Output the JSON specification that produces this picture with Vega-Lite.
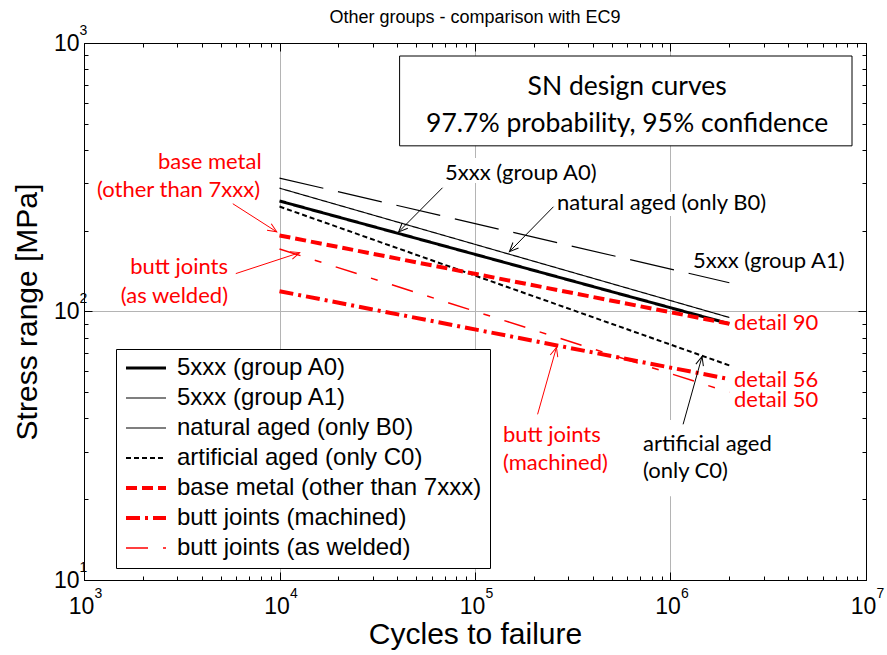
{
  "$schema": "https://vega.github.io/schema/vega-lite/v6.json",
  "width": 782,
  "height": 537,
  "autosize": "none",
  "padding": {"left": 84, "top": 43, "right": 21, "bottom": 75},
  "background": "white",
  "title": {"text": "Other groups - comparison with EC9", "font": "Liberation Sans", "fontSize": 18, "fontWeight": "normal", "color": "black", "anchor": "middle", "offset": -4},
  "config": {
    "view": {"stroke": "black", "strokeWidth": 1},
    "axis": {"domainColor": "black", "tickColor": "black", "labelColor": "black", "titleColor": "black", "labelFont": "Liberation Sans", "titleFont": "Liberation Sans", "titleFontWeight": "normal"}
  },
  "resolve": {"axis": {"x": "independent", "y": "independent"}},
  "layer": [
    {
      "data": {"values": [
        {"curve": "5xxx (group A0)", "N": 10000, "S": 258},
        {"curve": "5xxx (group A0)", "N": 2000000, "S": 90},
        {"curve": "5xxx (group A1)", "N": 10000, "S": 314},
        {"curve": "5xxx (group A1)", "N": 2000000, "S": 128},
        {"curve": "natural aged (only B0)", "N": 10000, "S": 288},
        {"curve": "natural aged (only B0)", "N": 2000000, "S": 95},
        {"curve": "artificial aged (only C0)", "N": 10000, "S": 246},
        {"curve": "artificial aged (only C0)", "N": 2000000, "S": 63},
        {"curve": "base metal (other than 7xxx)", "N": 10000, "S": 192},
        {"curve": "base metal (other than 7xxx)", "N": 2000000, "S": 90},
        {"curve": "butt joints (machined)", "N": 10000, "S": 119},
        {"curve": "butt joints (machined)", "N": 2000000, "S": 56},
        {"curve": "butt joints (as welded)", "N": 10000, "S": 171},
        {"curve": "butt joints (as welded)", "N": 2000000, "S": 50}
      ]},
      "mark": {"type": "line", "strokeCap": "butt"},
      "encoding": {
        "x": {"field": "N", "type": "quantitative", "scale": {"type": "log", "domain": [1000, 10000000], "nice": false},
          "axis": {"orient": "bottom", "title": "Cycles to failure", "titleFontSize": 30, "titlePadding": -3,
            "values": [1000,2000,3000,4000,5000,6000,7000,8000,9000,10000,20000,30000,40000,50000,60000,70000,80000,90000,100000,200000,300000,400000,500000,600000,700000,800000,900000,1000000,2000000,3000000,4000000,5000000,6000000,7000000,8000000,9000000,10000000],
            "labelExpr": "abs(log(datum.value)/LN10 - round(log(datum.value)/LN10)) < 0.001 ? '10' : ''",
            "labelFontSize": 23, "labelFlush": false, "labelOverlap": false, "labelPadding": 23, "labelOffset": -3,
            "tickSize": {"condition": {"test": "abs(log(datum.value)/LN10 - round(log(datum.value)/LN10)) < 0.001", "value": -8}, "value": -4},
            "grid": true, "gridColor": "#b4b4b4", "gridWidth": 1,
            "gridOpacity": {"condition": {"test": "abs(log(datum.value)/LN10 - round(log(datum.value)/LN10)) < 0.001", "value": 1}, "value": 0}}},
        "y": {"field": "S", "type": "quantitative", "scale": {"type": "log", "domain": [10, 1000], "nice": false},
          "axis": {"orient": "left", "title": "Stress range [MPa]", "titleFontSize": 30, "titlePadding": 11,
            "values": [10,20,30,40,50,60,70,80,90,100,200,300,400,500,600,700,800,900,1000],
            "labelExpr": "abs(log(datum.value)/LN10 - round(log(datum.value)/LN10)) < 0.001 ? '10' : ''",
            "labelFontSize": 23, "labelFlush": false, "labelOverlap": false, "labelPadding": 13,
            "tickSize": {"condition": {"test": "abs(log(datum.value)/LN10 - round(log(datum.value)/LN10)) < 0.001", "value": -8}, "value": -4},
            "grid": true, "gridColor": "#b4b4b4", "gridWidth": 1,
            "gridOpacity": {"condition": {"test": "abs(log(datum.value)/LN10 - round(log(datum.value)/LN10)) < 0.001", "value": 1}, "value": 0}}},
        "color": {"field": "curve", "type": "nominal",
          "scale": {"domain": ["5xxx (group A0)", "5xxx (group A1)", "natural aged (only B0)", "artificial aged (only C0)", "base metal (other than 7xxx)", "butt joints (machined)", "butt joints (as welded)"],
            "range": ["#000000", "#000000", "#000000", "#000000", "#ff0000", "#ff0000", "#ff0000"]},
          "legend": {"orient": "none", "legendX": 32, "legendY": 306, "title": null, "symbolType": "stroke", "symbolSize": 1600, "clipHeight": 22, "rowPadding": 6, "padding": 8, "labelOffset": 9, "labelFont": "Liberation Sans", "labelFontSize": 24, "labelColor": "black", "labelLimit": 500, "strokeColor": "black", "fillColor": "white", "cornerRadius": 0}},
        "strokeDash": {"field": "curve", "type": "nominal",
          "scale": {"domain": ["5xxx (group A0)", "5xxx (group A1)", "natural aged (only B0)", "artificial aged (only C0)", "base metal (other than 7xxx)", "butt joints (machined)", "butt joints (as welded)"],
            "range": [[1, 0], [45, 15], [1, 0], [5, 3], [11, 5], [14, 5, 3, 5], [22, 15, 7, 15]]},
          "legend": {"orient": "none", "legendX": 32, "legendY": 306, "title": null, "symbolType": "stroke", "symbolSize": 1600, "clipHeight": 22, "rowPadding": 6, "padding": 8, "labelOffset": 9, "labelFont": "Liberation Sans", "labelFontSize": 24, "labelColor": "black", "labelLimit": 500, "strokeColor": "black", "fillColor": "white", "cornerRadius": 0}},
        "strokeWidth": {"field": "curve", "type": "nominal",
          "scale": {"type": "ordinal", "domain": ["5xxx (group A0)", "5xxx (group A1)", "natural aged (only B0)", "artificial aged (only C0)", "base metal (other than 7xxx)", "butt joints (machined)", "butt joints (as welded)"],
            "range": [3, 1.2, 1.2, 2, 4, 4, 1.5]},
          "legend": {"orient": "none", "legendX": 32, "legendY": 306, "title": null, "symbolType": "stroke", "symbolSize": 1600, "clipHeight": 22, "rowPadding": 6, "padding": 8, "labelOffset": 9, "labelFont": "Liberation Sans", "labelFontSize": 24, "labelColor": "black", "labelLimit": 500, "strokeColor": "black", "fillColor": "white", "cornerRadius": 0}}
      }
    },
    {
      "data": {"values": [{"N": 41150, "N2": 8480000, "S": 894.5, "S2": 414}]},
      "mark": {"type": "rect", "fill": "white", "stroke": "black", "strokeWidth": 1},
      "encoding": {
        "x": {"field": "N", "type": "quantitative", "scale": {"type": "log", "domain": [1000, 10000000], "nice": false},
          "axis": {"orient": "top", "title": null, "labels": false, "grid": false,
            "values": [1000,2000,3000,4000,5000,6000,7000,8000,9000,10000,20000,30000,40000,50000,60000,70000,80000,90000,100000,200000,300000,400000,500000,600000,700000,800000,900000,1000000,2000000,3000000,4000000,5000000,6000000,7000000,8000000,9000000,10000000],
            "tickSize": {"condition": {"test": "abs(log(datum.value)/LN10 - round(log(datum.value)/LN10)) < 0.001", "value": -8}, "value": -4}}},
        "x2": {"field": "N2"},
        "y": {"field": "S", "type": "quantitative", "scale": {"type": "log", "domain": [10, 1000], "nice": false},
          "axis": {"orient": "right", "title": null, "labels": false, "grid": false,
            "values": [10,20,30,40,50,60,70,80,90,100,200,300,400,500,600,700,800,900,1000],
            "tickSize": {"condition": {"test": "abs(log(datum.value)/LN10 - round(log(datum.value)/LN10)) < 0.001", "value": -8}, "value": -4}}},
        "y2": {"field": "S2"}
      }
    },
    {
      "data": {"values": [
        {"N": 68600, "N2": 421000, "S": 373, "S2": 301},
        {"N": 256500, "N2": 3300000, "S": 278.6, "S2": 226.8},
        {"N": 706000, "N2": 3420000, "S": 39.4, "S2": 20.5}
      ]},
      "mark": {"type": "rect", "fill": "white", "stroke": null},
      "encoding": {
        "x": {"field": "N", "type": "quantitative",
          "axis": {"orient": "bottom", "title": null, "domain": false, "grid": false, "tickOpacity": 0,
            "values": [1000,10000,100000,1000000,10000000],
            "labelExpr": "substring('0123456789', round(log(datum.value)/LN10), round(log(datum.value)/LN10) + 1)",
            "labelFontSize": 14, "labelFlush": false, "labelOverlap": false, "labelPadding": 14.5, "labelOffset": 14,
            "tickSize": -8}},
        "x2": {"field": "N2"},
        "y": {"field": "S", "type": "quantitative",
          "axis": {"orient": "left", "title": null, "domain": false, "grid": false, "tickOpacity": 0,
            "values": [10, 100, 1000],
            "labelExpr": "substring('0123456789', round(log(datum.value)/LN10), round(log(datum.value)/LN10) + 1)",
            "labelFontSize": 14, "labelFlush": false, "labelOverlap": false, "labelPadding": 13, "labelAlign": "left", "labelOffset": -13,
            "tickSize": -8}},
        "y2": {"field": "S2"}
      }
    },
    {
      "data": {"values": [
        {"N": 600000, "S": 685.7, "t": "SN design curves"},
        {"N": 600000, "S": 500, "t": "97.7% probability, 95% confidence"}
      ]},
      "mark": {"type": "text", "font": "Lato", "fontSize": 26.5, "color": "black", "align": "center", "baseline": "middle"},
      "encoding": {
        "x": {"field": "N", "type": "quantitative", "axis": null},
        "y": {"field": "S", "type": "quantitative", "axis": null},
        "text": {"field": "t"}
      }
    },
    {
      "data": {"values": [
        {"N": 68200, "S": 289, "N2": 40700, "S2": 198},
        {"N": 252000, "S": 245.6, "N2": 150000, "S2": 167},
        {"N": 1160000, "S": 38.0, "N2": 1450000, "S2": 68.0}
      ]},
      "layer": [
        {"mark": {"type": "rule", "color": "black", "strokeWidth": 1},
         "encoding": {"x": {"field": "N", "type": "quantitative", "axis": null}, "y": {"field": "S", "type": "quantitative", "axis": null}, "x2": {"field": "N2"}, "y2": {"field": "S2"}}},
        {"mark": {"type": "point", "shape": "M-1.3,3L0,0L1.3,3", "filled": false, "stroke": "black", "strokeWidth": 1, "size": 36, "opacity": 1,
           "angle": {"expr": "atan2(scale('x', datum.N2) - scale('x', datum.N), scale('y', datum.S) - scale('y', datum.S2)) * 180 / PI"}},
         "encoding": {"x": {"field": "N2", "type": "quantitative", "axis": null}, "y": {"field": "S2", "type": "quantitative", "axis": null}}}
      ]
    },
    {
      "data": {"values": [
        {"N": 5770, "S": 252, "N2": 9680, "S2": 198},
        {"N": 5976, "S": 138.4, "N2": 12690, "S2": 165.7},
        {"N": 209000, "S": 41.4, "N2": 261000, "S2": 73.5}
      ]},
      "layer": [
        {"mark": {"type": "rule", "color": "#ff0000", "strokeWidth": 1},
         "encoding": {"x": {"field": "N", "type": "quantitative", "axis": null}, "y": {"field": "S", "type": "quantitative", "axis": null}, "x2": {"field": "N2"}, "y2": {"field": "S2"}}},
        {"mark": {"type": "point", "shape": "M-1.3,3L0,0L1.3,3", "filled": false, "stroke": "#ff0000", "strokeWidth": 1, "size": 36, "opacity": 1,
           "angle": {"expr": "atan2(scale('x', datum.N2) - scale('x', datum.N), scale('y', datum.S) - scale('y', datum.S2)) * 180 / PI"}},
         "encoding": {"x": {"field": "N2", "type": "quantitative", "axis": null}, "y": {"field": "S2", "type": "quantitative", "axis": null}}}
      ]
    },
    {
      "data": {"values": [
        {"N": 70200, "S": 328, "t": "5xxx (group A0)"},
        {"N": 262700, "S": 253.6, "t": "natural aged (only B0)"},
        {"N": 1303000, "S": 154.2, "t": "5xxx (group A1)"},
        {"N": 723400, "S": 32.1, "t": "artificial aged"},
        {"N": 723400, "S": 25.5, "t": "(only C0)"}
      ]},
      "mark": {"type": "text", "font": "Lato", "fontSize": 22, "color": "black", "align": "left", "baseline": "middle"},
      "encoding": {
        "x": {"field": "N", "type": "quantitative", "axis": null},
        "y": {"field": "S", "type": "quantitative", "axis": null},
        "text": {"field": "t"}
      }
    },
    {
      "data": {"values": [
        {"N": 8100, "S": 361, "t": "base metal"},
        {"N": 7950, "S": 284, "t": "(other than 7xxx)"},
        {"N": 5453, "S": 146.5, "t": "butt joints"},
        {"N": 5453, "S": 114.2, "t": "(as welded)"}
      ]},
      "mark": {"type": "text", "font": "Lato", "fontSize": 22, "color": "#ff0000", "align": "right", "baseline": "middle"},
      "encoding": {
        "x": {"field": "N", "type": "quantitative", "axis": null},
        "y": {"field": "S", "type": "quantitative", "axis": null},
        "text": {"field": "t"}
      }
    },
    {
      "data": {"values": [
        {"N": 139000, "S": 34.7, "t": "butt joints"},
        {"N": 139000, "S": 27.3, "t": "(machined)"},
        {"N": 2113000, "S": 90.6, "t": "detail 90"},
        {"N": 2113000, "S": 55.6, "t": "detail 56"},
        {"N": 2113000, "S": 46.8, "t": "detail 50"}
      ]},
      "mark": {"type": "text", "font": "Lato", "fontSize": 22, "color": "#ff0000", "align": "left", "baseline": "middle"},
      "encoding": {
        "x": {"field": "N", "type": "quantitative", "axis": null},
        "y": {"field": "S", "type": "quantitative", "axis": null},
        "text": {"field": "t"}
      }
    }
  ]
}
